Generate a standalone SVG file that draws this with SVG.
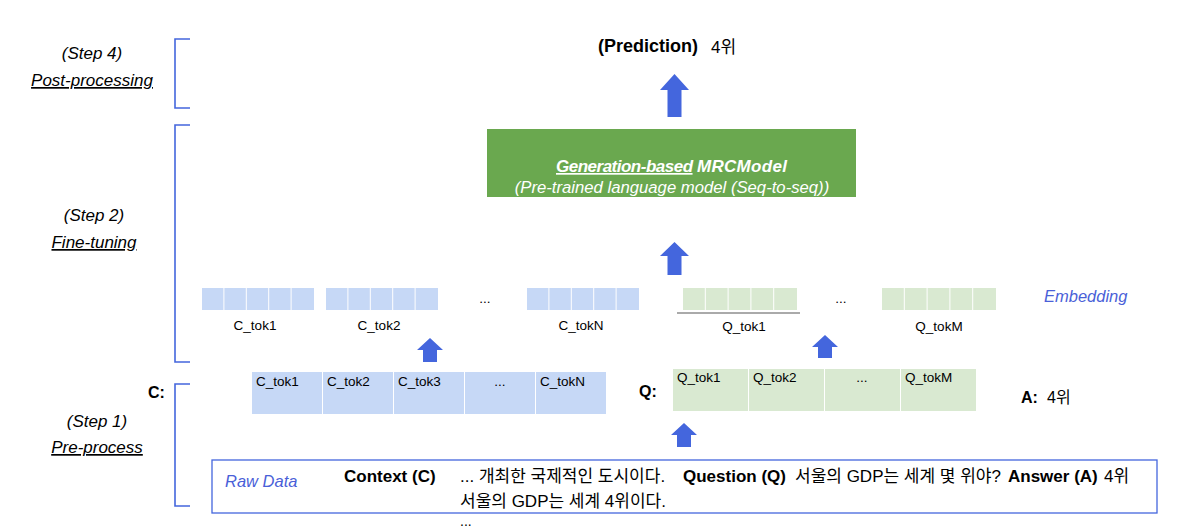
<svg xmlns="http://www.w3.org/2000/svg" xmlns:xlink="http://www.w3.org/1999/xlink" width="1180" height="530" viewBox="0 0 1180 530">
<style>
text{font-family:"Liberation Sans","Noto Sans CJK KR",Arial,sans-serif;fill:#000}
.step{font-size:17px;font-style:italic;text-anchor:middle}
.stepu{font-size:17px;font-style:italic;text-anchor:middle;text-decoration:underline}
.br{fill:none;stroke:#4466dd;stroke-width:1.6}
.arrow{fill:#4466dd}
.bc{fill:#c6d8f6}
.gc{fill:#d9e9d1}
.lab{font-size:13.5px}
.labm{font-size:13.5px;text-anchor:middle}
.kr{font-size:17px}
.bold{font-weight:bold}
.blue{fill:#4a5fd8;font-style:italic}
.wt{fill:#fff;font-style:italic}
</style>
<defs>
<g id="bblk">
<rect class="bc" x="0" y="0" width="21.4" height="22"/>
<rect class="bc" x="22.4" y="0" width="21.4" height="22"/>
<rect class="bc" x="44.8" y="0" width="21.4" height="22"/>
<rect class="bc" x="67.2" y="0" width="21.4" height="22"/>
<rect class="bc" x="89.6" y="0" width="22.4" height="22"/>
</g>
<g id="gblk">
<rect class="gc" x="0" y="0" width="21.8" height="22"/>
<rect class="gc" x="22.8" y="0" width="21.8" height="22"/>
<rect class="gc" x="45.6" y="0" width="21.8" height="22"/>
<rect class="gc" x="68.4" y="0" width="21.8" height="22"/>
<rect class="gc" x="91.2" y="0" width="22.8" height="22"/>
</g>
</defs>
<rect width="1180" height="530" fill="#fff"/>

<g id="steps">
<path class="br" d="M190,39 H175 V108 H190"/>
<text class="step" x="92" y="59">(Step 4)</text>
<text class="stepu" x="92" y="86">Post-processing</text>
<path class="br" d="M190,125 H175 V362 H190"/>
<text class="step" x="94" y="221">(Step 2)</text>
<text class="stepu" x="94" y="248">Fine-tuning</text>
<path class="br" d="M190,384 H175 V506 H190"/>
<text class="step" x="97" y="427">(Step 1)</text>
<text class="stepu" x="97" y="453">Pre-process</text>
</g>

<g id="prediction">
<text x="598" y="52" class="bold" style="font-size:18px">(Prediction)</text>
<text x="711" y="53" style="font-size:17px">4위</text>
</g>

<g id="model">
<rect x="487" y="129" width="369" height="68" fill="#6aa84f"/>
<text x="556" y="172" class="wt bold" style="font-size:17px;letter-spacing:-0.5px;text-decoration:underline">Generation-based</text>
<text x="697" y="172" class="wt bold" style="font-size:17px;letter-spacing:0.3px">MRCModel</text>
<text x="672" y="193" class="wt" style="font-size:16.7px;text-anchor:middle">(Pre-trained language model (Seq-to-seq))</text>
</g>

<g id="embedding">
<use xlink:href="#bblk" x="202" y="288"/>
<use xlink:href="#bblk" x="326" y="288"/>
<use xlink:href="#bblk" x="527" y="288"/>
<use xlink:href="#gblk" x="683" y="288"/>
<use xlink:href="#gblk" x="882" y="288"/>
<line x1="677" y1="313" x2="800" y2="313" stroke="#aaaaaa" stroke-width="2"/>
<text class="labm" x="255" y="330">C_tok1</text>
<text class="labm" x="379" y="330">C_tok2</text>
<text class="labm" x="485" y="303">...</text>
<text class="labm" x="581" y="330">C_tokN</text>
<text class="labm" x="744" y="331">Q_tok1</text>
<text class="labm" x="841" y="303">...</text>
<text class="labm" x="939" y="331">Q_tokM</text>
<text class="blue" x="1044" y="302" style="font-size:16.5px">Embedding</text>
</g>

<g id="context-tokens">
<text x="148" y="398" class="bold" style="font-size:16px">C:</text>
<rect class="bc" x="252" y="372" width="70" height="42"/>
<rect class="bc" x="323" y="372" width="70" height="42"/>
<rect class="bc" x="394" y="372" width="70" height="42"/>
<rect class="bc" x="465" y="372" width="70" height="42"/>
<rect class="bc" x="536" y="372" width="70" height="42"/>
<text class="lab" x="256" y="386">C_tok1</text>
<text class="lab" x="327" y="386">C_tok2</text>
<text class="lab" x="398" y="386">C_tok3</text>
<text class="labm" x="500" y="386">...</text>
<text class="lab" x="540" y="386">C_tokN</text>
</g>

<g id="question-tokens">
<text x="639" y="397" class="bold" style="font-size:16px">Q:</text>
<rect class="gc" x="673" y="369" width="75" height="42"/>
<rect class="gc" x="749" y="369" width="75" height="42"/>
<rect class="gc" x="825" y="369" width="75" height="42"/>
<rect class="gc" x="901" y="369" width="75" height="42"/>
<text class="lab" x="677" y="382">Q_tok1</text>
<text class="lab" x="753" y="382">Q_tok2</text>
<text class="labm" x="862" y="382">...</text>
<text class="lab" x="905" y="382">Q_tokM</text>
</g>

<g id="answer">
<text x="1021" y="403" class="bold" style="font-size:16px">A:</text>
<text x="1047" y="403" style="font-size:16px">4위</text>
</g>

<g id="raw-data">
<rect x="212" y="460" width="945" height="53" fill="none" stroke="#4466dd" stroke-width="1.3"/>
<text class="blue" x="225" y="487" style="font-size:16.5px">Raw Data</text>
<text class="bold" x="344" y="482" style="font-size:17px">Context (C)</text>
<text class="kr" x="460" y="482">... 개최한 국제적인 도시이다.</text>
<text class="bold" x="683" y="482" style="font-size:17px">Question (Q)</text>
<text class="kr" x="795" y="482">서울의 GDP는 세계 몇 위야?</text>
<text class="bold" x="1008" y="482" style="font-size:17px">Answer (A)</text>
<text class="kr" x="1104" y="482">4위</text>
<text class="kr" x="460" y="507">서울의 GDP는 세계 4위이다.</text>
<text x="460" y="526" style="font-size:14px">...</text>
</g>

<g id="connectors">
<path class="arrow" d="M674.5,74 L689,90 H681.5 V117 H667.5 V90 H660 Z"/>
<path class="arrow" d="M674.5,242 L689,256 H681.5 V275 H667.5 V256 H660 Z"/>
<path class="arrow" d="M430,338 L443,350 H437 V362 H423 V350 H417 Z"/>
<path class="arrow" d="M825,335 L838,347 H832 V358 H818 V347 H812 Z"/>
<path class="arrow" d="M684,423 L697,435 H691 V447 H677 V435 H671 Z"/>
</g>
</svg>
